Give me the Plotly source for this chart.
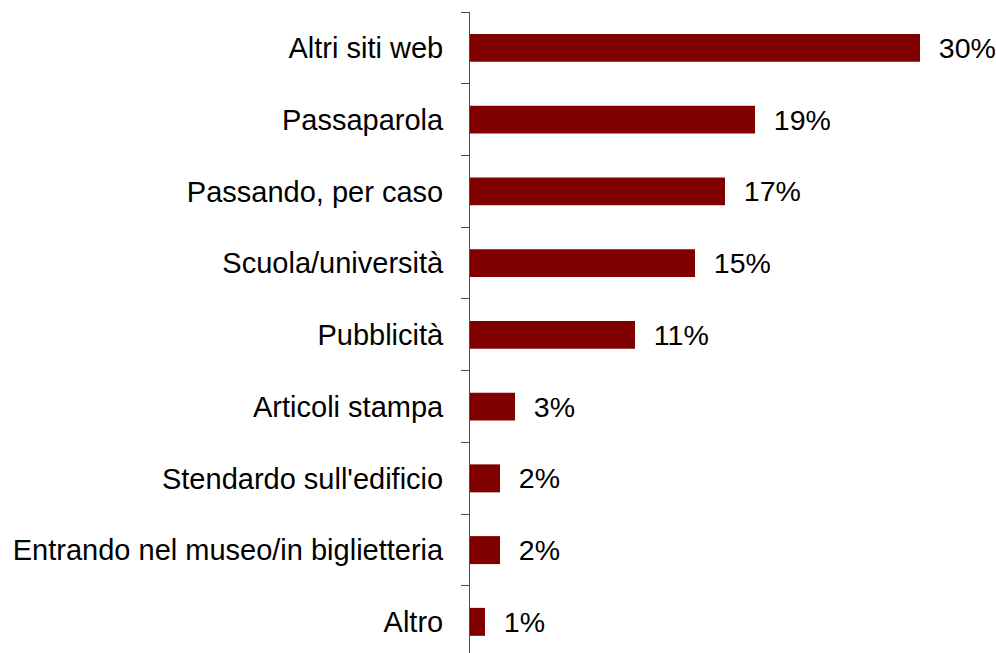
import plotly.graph_objects as go

# Where visitors heard about the museum (share of respondents, %)
categories = [
    "Altri siti web",
    "Passaparola",
    "Passando, per caso",
    "Scuola/università",
    "Pubblicità",
    "Articoli stampa",
    "Stendardo sull'edificio",
    "Entrando nel museo/in biglietteria",
    "Altro",
]
values = [30, 19, 17, 15, 11, 3, 2, 2, 1]

BAR_COLOR = "#800000"
AXIS_COLOR = "#4d4d4d"
FONT = "Liberation Sans, Arial, sans-serif"

fig = go.Figure(
    go.Bar(
        x=values,
        y=categories,
        orientation="h",
        marker=dict(color=BAR_COLOR, line=dict(width=0)),
        texttemplate="\u00a0\u00a0%{x}%",
        textposition="outside",
        textfont=dict(family=FONT, size=28.5, color="#000000"),
        constraintext="none",
        cliponaxis=False,
    )
)

fig.update_layout(
    width=996,
    height=653,
    margin=dict(l=470, r=1, t=12, b=0),
    paper_bgcolor="white",
    plot_bgcolor="white",
    bargap=0.61,
    showlegend=False,
    font=dict(family=FONT, size=29, color="#000000"),
)

fig.update_xaxes(
    range=[0, 35],
    showgrid=False,
    zeroline=False,
    showline=False,
    showticklabels=False,
    ticks="",
)

fig.update_yaxes(
    type="category",
    range=[8.434, -0.5],
    showgrid=False,
    zeroline=False,
    showline=True,
    linecolor=AXIS_COLOR,
    linewidth=1,
    ticks="outside",
    tickson="boundaries",
    ticklen=8,
    tickwidth=1,
    tickcolor=AXIS_COLOR,
    tickfont=dict(family=FONT, size=29, color="#000000"),
    ticklabelstandoff=20,
)

fig.write_html("out.html")
